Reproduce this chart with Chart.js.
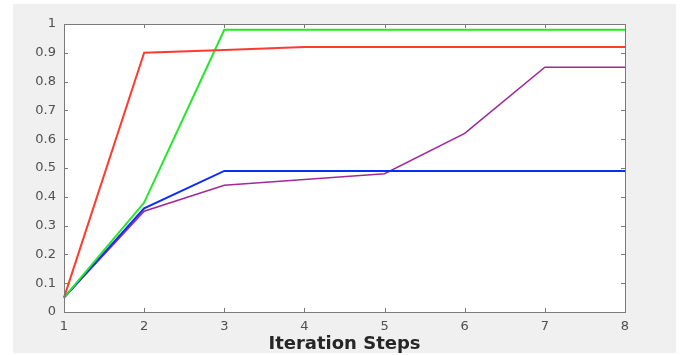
<!DOCTYPE html>
<html lang="en">
<head>
  <meta charset="UTF-8" />
  <title>Iteration Steps</title>
  <script src="https://cdn.jsdelivr.net/npm/chart.js"></script>
  <style>
    body {
      margin: 0;
      background: #ffffff;
    }
    #frame {
      position: absolute;
      left: 13px;
      top: 4px;
      width: 663px;
      height: 349px;
      background: #f0f0f0;
    }
  </style>
</head>
<body>
  <div id="frame">
    <canvas id="chart" width="663" height="349"></canvas>
  </div>

  <script>
    // values
    const steps = ['1', '2', '3', '4', '5', '6', '7', '8'];
    const redVals = [0.05, 0.90, 0.91, 0.92, 0.92, 0.92, 0.92, 0.92];
    const greenVals = [0.05, 0.38, 0.98, 0.98, 0.98, 0.98, 0.98, 0.98];
    const blueVals = [0.05, 0.36, 0.49, 0.49, 0.49, 0.49, 0.49, 0.49];
    const purpleVals = [0.05, 0.35, 0.44, 0.46, 0.48, 0.62, 0.85, 0.85];
    const yMin = 0, yMax = 1, yStep = 0.1;
    const xTitle = 'Iteration Steps';

    // white plot area + matlab style box with inward ticks
    const axesBox = {
      id: 'axesBox',
      beforeDatasetsDraw(chart) {
        const a = chart.chartArea, ctx = chart.ctx;
        ctx.save();
        ctx.fillStyle = '#ffffff';
        ctx.fillRect(a.left, a.top, a.right - a.left, a.bottom - a.top);
        ctx.restore();
      },
      afterDatasetsDraw(chart) {
        const a = chart.chartArea, ctx = chart.ctx;
        const xs = chart.scales.x, ys = chart.scales.y;
        const len = 4;
        ctx.save();
        ctx.strokeStyle = '#7a7a7a';
        ctx.lineWidth = 1;
        ctx.beginPath();
        xs.ticks.forEach((t, i) => {
          const px = Math.round(xs.getPixelForTick(i)) + 0.5;
          ctx.moveTo(px, a.bottom); ctx.lineTo(px, a.bottom - len);
          ctx.moveTo(px, a.top); ctx.lineTo(px, a.top + len);
        });
        ys.ticks.forEach((t, i) => {
          const py = Math.round(ys.getPixelForTick(i)) + 0.5;
          ctx.moveTo(a.left, py); ctx.lineTo(a.left + len, py);
          ctx.moveTo(a.right, py); ctx.lineTo(a.right - len, py);
        });
        ctx.stroke();
        ctx.strokeRect(Math.round(a.left) + 0.5, Math.round(a.top) + 0.5,
          Math.round(a.right - a.left), Math.round(a.bottom - a.top));
        ctx.restore();
      }
    };

    const ds = (data, color, w) => ({
      data: data,
      borderColor: color,
      borderWidth: w,
      pointRadius: 0,
      fill: false,
      tension: 0
    });

    new Chart(document.getElementById('chart'), {
      type: 'line',
      data: {
        labels: steps,
        datasets: [
          ds(redVals, '#ff3a2e', 2),
          ds(greenVals, '#22e82a', 2),
          ds(blueVals, '#0a2cff', 2),
          ds(purpleVals, '#a02a9c', 1.6)
        ]
      },
      options: {
        responsive: false,
        animation: false,
        events: [],
        layout: { padding: { left: 0, top: 20, right: 51, bottom: 0 } },
        plugins: {
          legend: { display: false },
          tooltip: { enabled: false }
        },
        scales: {
          x: {
            offset: false,
            grid: { display: false, drawTicks: false },
            border: { display: false },
            ticks: {
              color: '#505050',
              font: { family: 'DejaVu Sans', size: 13 },
              padding: 7,
              maxRotation: 0
            },
            title: {
              display: true,
              text: xTitle,
              color: '#262626',
              font: { family: 'DejaVu Sans', size: 18, weight: 'bold', lineHeight: 1.0 },
              padding: { top: 0, bottom: 0 }
            },
            afterFit(s) { s.height = 41; }
          },
          y: {
            min: yMin,
            max: yMax,
            grid: { display: false, drawTicks: false },
            border: { display: false },
            ticks: {
              stepSize: yStep,
              color: '#505050',
              font: { family: 'DejaVu Sans', size: 13 },
              padding: 8,
              callback: v => String(+v.toFixed(1))
            },
            afterFit(s) { s.width = 51; }
          }
        }
      },
      plugins: [axesBox]
    });
  </script>
</body>
</html>
